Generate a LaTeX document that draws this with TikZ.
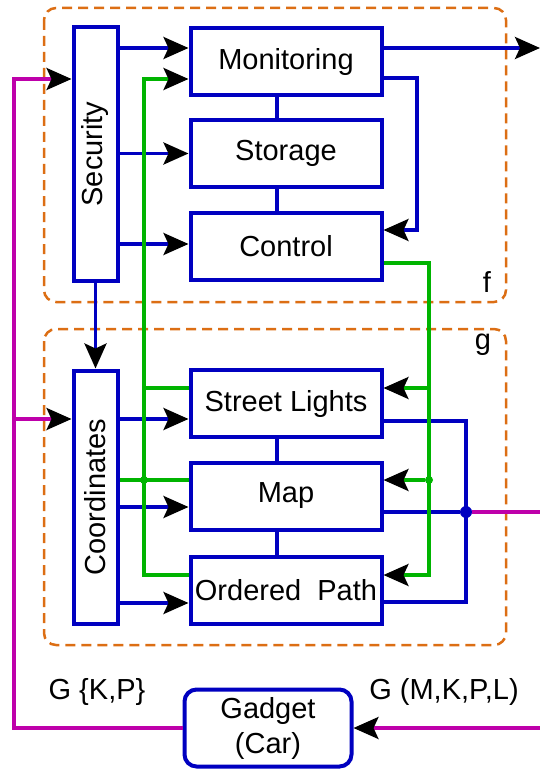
\documentclass[tikz,border=0pt]{standalone}
\usepackage{fontspec}
\setmainfont{Liberation Sans}
\usetikzlibrary{arrows.meta, positioning}
\definecolor{boxblue}{RGB}{0, 0, 192}
\definecolor{linkgreen}{RGB}{0, 180, 0}
\definecolor{busmag}{RGB}{190, 0, 170}
\definecolor{grporange}{RGB}{220, 110, 20}

\begin{document}
\begin{tikzpicture}[x=1pt, y=-1pt,
    blk/.style  = {draw=boxblue, line width=4pt, fill=white, inner sep=0pt, font=\fontsize{29}{35}\selectfont, align=center},
    hblk/.style = {blk, minimum width=191pt, minimum height=67pt},
    vblk/.style = {blk, minimum width=44pt, minimum height=253pt},
    grp/.style  = {draw=grporange, line width=2.5pt, dash pattern=on 10pt off 6pt, rounded corners=12pt},
    arr/.style  = {-{Stealth[length=25pt, width=22pt, inset=5pt, color=black]}},
    bl/.style   = {draw=boxblue, line width=3.4pt},
    gr/.style   = {draw=linkgreen, line width=3.4pt},
    mg/.style   = {draw=busmag, line width=3.2pt},
    lbl/.style  = {font=\fontsize{29}{35}\selectfont, inner sep=0pt},
    jdot/.style = {circle, inner sep=0pt},
  ]
    \useasboundingbox (0,0) rectangle (540,770);

    % dashed groups
    \draw[grp] (44,8) rectangle (506,302);
    \draw[grp] (44,329) rectangle (506,645);
    \node[lbl] (flab) at (487,282) {f};
    \node[lbl] (glab) at (483,345) {g};

    % --- nodes ---
    % group f
    \node[vblk] (sec) at (95.5,154) {\rotatebox{90}{Security}};
    \node[hblk] (mon) at (286,62)    {Monitoring};
    \node[hblk] (sto) at (286,153.5) {Storage};
    \node[hblk] (ctl) at (286,246.5) {Control};

    % group g
    \node[vblk] (coo) at (95.5,497) {\rotatebox{90}{Coordinates}};
    \node[hblk] (sl)  at (286,403.5) {Street Lights};
    \node[hblk] (map) at (286,496)   {Map};
    \node[hblk] (op)  at (286,590)   {Ordered~~Path};

    % gadget
    \node[blk, rounded corners=12pt, minimum width=167pt, minimum height=77pt] (gad) at (268,728) {Gadget\\(Car)};
    \node[lbl] (gkp)  at (97,692)  {G \{K,P\}};
    \node[lbl] (gmkp) at (444,692) {G (M,K,P,L)};

    % junctions and free ends
    \node[jdot, fill=linkgreen, minimum size=8pt]  (gdotl) at (144,480) {};
    \node[jdot, fill=linkgreen, minimum size=8pt]  (gdotr) at (429,480) {};
    \node[jdot, fill=boxblue,   minimum size=12pt] (jmap)  at (466,512) {};
    \coordinate (outm)  at (540,48);
    \coordinate (inmap) at (540,512);
    \coordinate (ingad) at (540,728);
    \coordinate (bus)   at (14,419);

    % --- connectors ---
    % security fan-out
    \draw[bl, arr] (sec.east |- 0,48) -- (mon.west |- 0,48);
    \draw[bl, arr] (sec.east |- sto.west) -- (sto.west);
    \draw[bl, arr] (sec.east |- 0,244) -- (ctl.west |- 0,244);
    \draw[bl, arr] (sec.south) -- (coo.north);

    % monitoring out and loop back to control
    \draw[bl, arr] (mon.east |- 0,48) -- (outm);
    \draw[bl, arr] (mon.east |- 0,78) -| (417,230) -- (ctl.east |- 0,230);
    \draw[bl] (mon.south -| 277,0) -- (sto.north -| 277,0);
    \draw[bl] (sto.south -| 277,0) -- (ctl.north -| 277,0);

    % coordinates fan-out
    \draw[bl, arr] (coo.east |- 0,419) -- (sl.west |- 0,419);
    \draw[bl, arr] (coo.east |- 0,507) -- (map.west |- 0,507);
    \draw[bl, arr] (coo.east |- 0,603) -- (op.west |- 0,603);
    \draw[bl] (sl.south -| 277,0) -- (map.north -| 277,0);
    \draw[bl] (map.south -| 277,0) -- (op.north -| 277,0);

    % right bus of group g
    \draw[bl] (sl.east |- 0,421) -- (jmap |- 0,421) -- (jmap |- 0,602) -- (op.east |- 0,602);
    \draw[bl] (map.east |- 0,512) -- (jmap);
    \draw[mg] (jmap) -- (inmap);

    % green links, left side
    \draw[gr, arr] (op.west |- 0,575) -| (gdotl |- 0,79) -- (mon.west |- 0,79);
    \draw[gr] (gdotl |- 0,388) -- (sl.west |- 0,388);
    \draw[gr] (coo.east |- gdotl) -- (map.west |- gdotl);

    % green links, right side
    \draw[gr, arr] (ctl.east |- 0,263) -| (gdotr |- 0,575) -- (op.east |- 0,575);
    \draw[gr, arr] (gdotr |- 0,388) -- (sl.east |- 0,388);
    \draw[gr, arr] (gdotr) -- (map.east |- gdotr);

    % gadget loop
    \draw[mg, arr] (gad.west) -| (14,79) -- (sec.west |- 0,79);
    \draw[mg, arr] (bus) -- (coo.west |- bus);
    \draw[mg, arr] (ingad) -- (gad.east);

  \end{tikzpicture}
\end{document}
